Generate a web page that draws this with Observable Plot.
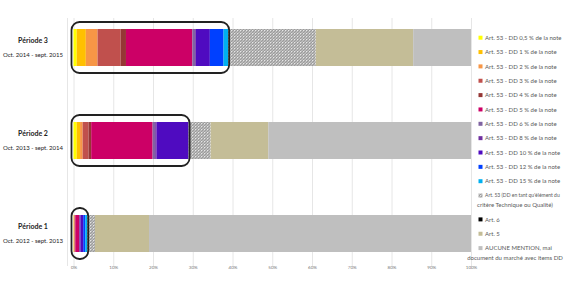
<!DOCTYPE html>
<html><head><meta charset="utf-8">
<script src="https://cdn.jsdelivr.net/npm/d3@7"></script>
<script src="https://cdn.jsdelivr.net/npm/@observablehq/plot@0.6"></script>
<style>
body{margin:0;background:#fff;}
#wrap{position:relative;width:564px;height:292px;overflow:hidden;font-family:Lato,"Open Sans",sans-serif;}
#wrap svg{position:absolute;left:0;top:0;}
</style></head><body><div id="wrap"></div>
<script>
const periods = ["Période 3", "Période 2", "Période 1"];
const periodDates = ["Oct. 2014 - sept. 2015", "Oct. 2013 - sept. 2014", "Oct. 2012 - sept. 2013"];
const categories = [
  "Art. 53 - DD 0,5 % de la note",
  "Art. 53 - DD 1 % de la note",
  "Art. 53 - DD 2 % de la note",
  "Art. 53 - DD 3 % de la note",
  "Art. 53 - DD 4 % de la note",
  "Art. 53 - DD 5 % de la note",
  "Art. 53 - DD 6 % de la note",
  "Art. 53 - DD 8 % de la note",
  "Art. 53 - DD 10 % de la note",
  "Art. 53 - DD 12 % de la note",
  "Art. 53 - DD 15 % de la note",
  "Art. 53 (DD en tant qu'élément du\ncritère Technique ou Qualité)",
  "Art. 6",
  "Art. 5",
  "AUCUNE MENTION, mai\ndocument du marché avec items DD"
];
const period3 = [0.8, 2.3, 2.95, 5.8, 1.35, 16.7, 0.7, 0.2, 3.5, 3.45, 1.15, 22.05, 0, 24.5, 14.55];
const period2 = [0.8, 0.85, 0.65, 1.5, 0.65, 15.45, 0.65, 0.35, 8.05, 0, 0, 5.55, 0, 14.5, 51.0];
const period1 = [0, 0.1, 0.15, 0.2, 0, 1.0, 0, 0.3, 0.7, 0.5, 0.5, 1.95, 0, 13.6, 81.0];
const ddCount = 11; // the "DD x % de la note" categories (boxed)
const tickValues = [0, 10, 20, 30, 40, 50, 60, 70, 80, 90, 100];
const palette = ["#FFFF00","#FFC000","#F79646","#C0504D","#953735","#CC0066","#8064A2","#7030A0","#4F0BC0","#0040FF","#00B0F0","url(#hatch)","#000000","#C4BD97","#BFBFBF"];

const series = [period3, period2, period1];
const data = [];
periods.forEach((p, pi) => categories.forEach((c, ci) => data.push({period: p, cat: c, value: series[pi][ci]})));
const boxes = periods.map((p, pi) => ({period: p, dd: d3.sum(series[pi].slice(0, ddCount))}));

const plot = Plot.plot({
  width: 564, height: 292,
  marginLeft: 73.5, marginRight: 93, marginTop: 18, marginBottom: 26,
  style: {fontFamily: "Lato, 'Open Sans', sans-serif", background: "white"},
  x: {domain: [0, 100], axis: null},
  y: {domain: periods, range: [0.45, 281], paddingInner: 0.6, paddingOuter: 0.3, axis: null},
  color: {domain: categories, range: palette},
  marks: [
    Plot.ruleX([0], {dx: -6.5, stroke: "#e6e6e6"}),
    Plot.gridX(tickValues, {stroke: "#e6e6e6", strokeOpacity: 1}),
    Plot.axisX(tickValues, {anchor: "bottom", tickSize: 0, tickFormat: d => d + "%", fontSize: 4.5, fill: "#777", dy: -10}),
    Plot.barX(data, Plot.stackX({x: "value", y: "period", fill: "cat"})),
    Plot.barX(boxes, {x1: 0, x2: "dd", y: "period", fill: "none", stroke: "#222", strokeWidth: 1.8, rx: 8,
      insetTop: -7, insetBottom: -7, insetLeft: -2, insetRight: -1}),
    Plot.text(periods, {y: d => d, text: d => d, frameAnchor: "left", dx: -41, dy: -7, textAnchor: "middle", fontWeight: "bold", fontSize: 7, fill: "#222"}),
    Plot.text(periods, {y: d => d, text: (d, i) => periodDates[i], frameAnchor: "left", dx: -41, dy: 7, textAnchor: "middle", fontSize: 6, fill: "#222"})
  ]
});
const ns = "http://www.w3.org/2000/svg";
const defs = document.createElementNS(ns, "defs");
defs.innerHTML = `<pattern id="hatch" width="3" height="3" patternUnits="userSpaceOnUse"><rect width="3" height="3" fill="#b9b9b9"/><path d="M0,3L3,0M-1,1L1,-1M2,4L4,2" stroke="#8e8e8e" stroke-width="0.7"/><rect x="0" y="0" width="0.9" height="0.9" fill="#f2f2f2"/></pattern>`;
plot.insertBefore(defs, plot.firstChild);
const wrap = document.getElementById("wrap");
wrap.appendChild(plot);

// Legend overlay
const lg = d3.select(wrap).append("svg").attr("width", 564).attr("height", 292)
  .style("font-family", "Lato, 'Open Sans', sans-serif").style("font-size", "6px");
let yy = 37.7;
categories.forEach((c, i) => {
  const lines = c.split("\n");
  lg.append("rect").attr("x", 478.5).attr("y", yy - 2).attr("width", 4).attr("height", 4).attr("fill", palette[i]);
  lg.append("text").attr("x", 485).attr("y", yy).attr("dy", "0.35em").attr("fill", "#595959")
    .style("font-size", lines[0].length > 30 ? "5px" : "6px").text(lines[0]);
  if (lines[1]) {
    lg.append("text").attr("x", 515).attr("y", yy + 9.5).attr("dy", "0.35em").attr("text-anchor", "middle").attr("fill", "#595959").text(lines[1]);
    yy += 9.5;
  }
  yy += 14.35;
});
</script></body></html>
